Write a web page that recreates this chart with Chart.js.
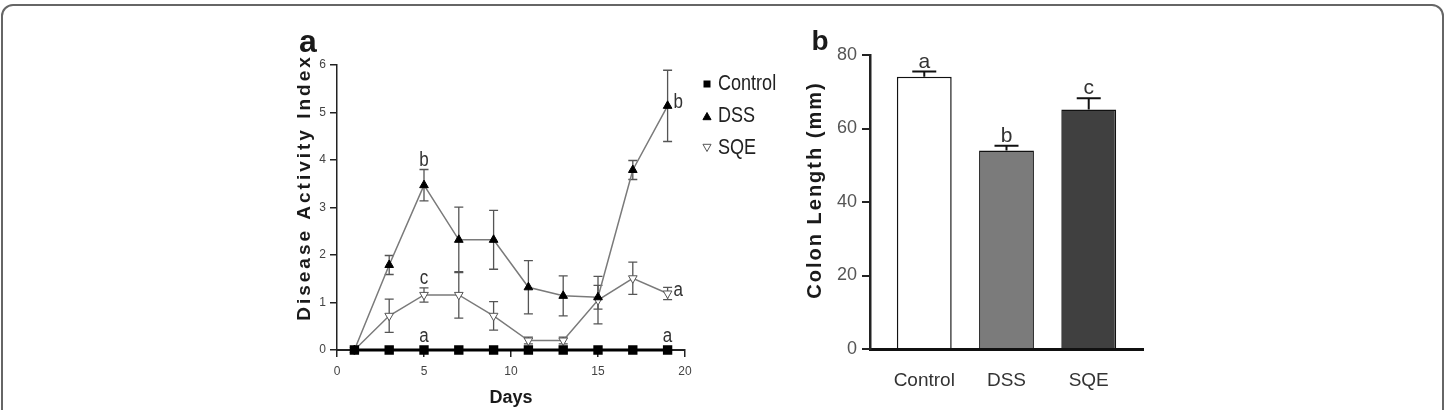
<!DOCTYPE html>
<html>
<head>
<meta charset="utf-8">
<script src="https://cdn.jsdelivr.net/npm/chart.js@4.4.1/dist/chart.umd.min.js"></script>
<style>
  body { margin: 0; background: #fff; width: 1446px; height: 410px; overflow: hidden; position: relative; }
  .frame { position: absolute; left: 1px; top: 4px; width: 1439px; height: 460px; border: 2px solid #666; border-radius: 12px; }
  #dai { position: absolute; left: 280px; top: 20px; }
  #colon { position: absolute; left: 790px; top: 20px; }
</style>
</head>
<body>
<div class="frame"></div>
<canvas id="dai" width="520" height="390"></canvas>
<canvas id="colon" width="380" height="390"></canvas>
<script>
// panel a: disease activity index over time
const days = [1, 3, 5, 7, 9, 11, 13, 15, 17, 19];
const controlDAI = [0, 0, 0, 0, 0, 0, 0, 0, 0, 0];
const controlErr = [0, 0, 0, 0, 0, 0, 0, 0, 0, 0];
const dssDAI = [0, 1.79, 3.47, 2.32, 2.32, 1.32, 1.14, 1.11, 3.79, 5.14];
const dssErr = [0, 0.2, 0.33, 0.69, 0.62, 0.56, 0.42, 0.25, 0.2, 0.75];
const sqeDAI = [0, 0.72, 1.16, 1.16, 0.72, 0.2, 0.2, 1.05, 1.51, 1.19];
const sqeErr = [0, 0.35, 0.15, 0.49, 0.3, 0.07, 0.07, 0.5, 0.34, 0.13];
const controlLetters = ['', '', 'a', '', '', '', '', '', '', 'a'];
const dssLetters = ['', '', 'b', '', '', '', '', '', '', 'b'];
const sqeLetters = ['', '', 'c', '', '', '', '', '', '', 'a'];
const dayTicks = [0, 5, 10, 15, 20];
const daiTicks = [0, 1, 2, 3, 4, 5, 6];

// panel b: colon length
const groups = ['Control', 'DSS', 'SQE'];
const colonLength = [74.1, 54.0, 65.2];
const colonErr = [1.4, 1.3, 3.0];
const colonLetters = ['a', 'b', 'c'];
const lengthTicks = [0, 20, 40, 60, 80];

const sans = "'Liberation Sans', Arial, sans-serif";

function toPoints(xs, ys) {
  return xs.map((x, i) => ({ x: x, y: ys[i] }));
}

// squeeze text sideways, the figure uses a condensed face
function narrowText(ctx, text, x, y, sx) {
  ctx.save();
  ctx.translate(x, y);
  ctx.scale(sx, 1);
  ctx.fillText(text, 0, 0);
  ctx.restore();
}

function drawTri(ctx, x, y, r, down, fill, stroke) {
  const s = down ? -1 : 1;
  ctx.beginPath();
  ctx.moveTo(x, y - s * r);
  ctx.lineTo(x + r * 0.9, y + s * r * 0.6);
  ctx.lineTo(x - r * 0.9, y + s * r * 0.6);
  ctx.closePath();
  ctx.fillStyle = fill;
  ctx.fill();
  ctx.strokeStyle = stroke;
  ctx.lineWidth = 1;
  ctx.stroke();
}

const panelA = {
  id: 'panelA',
  beforeDatasetsDraw(chart) {
    const ctx = chart.ctx, xs = chart.scales.x, ys = chart.scales.y;
    ctx.save();
    ctx.strokeStyle = '#555';
    ctx.lineWidth = 1.3;
    chart.data.datasets.forEach(ds => {
      ds.errors.forEach((e, i) => {
        if (!e) return;
        const x = xs.getPixelForValue(ds.data[i].x);
        const y1 = ys.getPixelForValue(ds.data[i].y + e);
        const y2 = ys.getPixelForValue(ds.data[i].y - e);
        ctx.beginPath();
        ctx.moveTo(x, y1); ctx.lineTo(x, y2);
        ctx.moveTo(x - 4.5, y1); ctx.lineTo(x + 4.5, y1);
        ctx.moveTo(x - 4.5, y2); ctx.lineTo(x + 4.5, y2);
        ctx.stroke();
      });
    });
    ctx.restore();
  },
  afterDatasetsDraw(chart) {
    const ctx = chart.ctx, xs = chart.scales.x, ys = chart.scales.y;
    ctx.save();
    ctx.fillStyle = '#333';
    ctx.font = '20px ' + sans;
    chart.data.datasets.forEach((ds, di) => {
      const last = ds.letters.length - 1;
      ds.letters.forEach((t, i) => {
        if (!t) return;
        const x = xs.getPixelForValue(ds.data[i].x);
        if (di > 0 && i === last) {
          ctx.textAlign = 'left';
          ctx.textBaseline = 'middle';
          narrowText(ctx, t, x + 6, ys.getPixelForValue(ds.data[i].y) - 3, 0.85);
        } else {
          ctx.textAlign = 'center';
          ctx.textBaseline = 'alphabetic';
          const e = ds.errors[i];
          narrowText(ctx, t, x, ys.getPixelForValue(ds.data[i].y + e) - (e ? 4 : 8), 0.85);
        }
      });
    });
    ctx.restore();
  },
  afterDraw(chart) {
    const ctx = chart.ctx, a = chart.chartArea;
    ctx.save();
    ctx.fillStyle = '#1a1a1a';
    // panel letter
    ctx.font = 'bold 32px ' + sans;
    ctx.textAlign = 'center';
    ctx.textBaseline = 'middle';
    ctx.fillText('a', 28, 23);
    // x title
    ctx.font = 'bold 18px ' + sans;
    ctx.fillText('Days', (a.left + a.right) / 2, 378);
    // y title
    ctx.save();
    ctx.translate(25, (a.top + a.bottom) / 2 - 20);
    ctx.rotate(-Math.PI / 2);
    ctx.letterSpacing = '3px';
    ctx.font = 'bold 19px ' + sans;
    ctx.fillText('Disease Activity Index', 0, 0);
    ctx.restore();
    // legend
    ctx.font = '22px ' + sans;
    ctx.textAlign = 'left';
    const lx = a.right + 22;
    chart.data.datasets.forEach((ds, i) => {
      const ly = a.top + 19 + i * 32;
      if (i === 0) {
        ctx.fillStyle = '#000';
        ctx.fillRect(lx - 3.5, ly - 3.5, 7, 7);
      } else if (i === 1) {
        drawTri(ctx, lx, ly + 1, 4.5, false, '#000', '#000');
      } else {
        drawTri(ctx, lx, ly - 1, 4.5, true, '#fff', '#555');
      }
      ctx.fillStyle = '#222';
      narrowText(ctx, ds.label, lx + 11, ly, 0.82);
    });
    ctx.restore();
  }
};

new Chart(document.getElementById('dai'), {
  type: 'line',
  data: {
    datasets: [
      {
        label: 'Control', data: toPoints(days, controlDAI), errors: controlErr, letters: controlLetters,
        borderColor: '#000', borderWidth: 3, pointStyle: 'rect', pointRadius: 4.5,
        pointBackgroundColor: '#000', pointBorderColor: '#000', clip: false
      },
      {
        label: 'DSS', data: toPoints(days, dssDAI), errors: dssErr, letters: dssLetters,
        borderColor: '#7a7a7a', borderWidth: 1.5, pointStyle: 'triangle', pointRadius: 5,
        pointBackgroundColor: '#000', pointBorderColor: '#000', pointBorderWidth: 1, clip: false
      },
      {
        label: 'SQE', data: toPoints(days, sqeDAI), errors: sqeErr, letters: sqeLetters,
        borderColor: '#7a7a7a', borderWidth: 1.5, pointStyle: 'triangle', pointRotation: 180, pointRadius: 5,
        pointBackgroundColor: '#fff', pointBorderColor: '#555', pointBorderWidth: 1, clip: false
      }
    ]
  },
  options: {
    responsive: false,
    animation: false,
    layout: { padding: { left: 30, top: 45, right: 115, bottom: 0 } },
    plugins: { legend: { display: false }, tooltip: { enabled: false } },
    scales: {
      x: {
        type: 'linear', min: 0, max: 20,
        afterBuildTicks: s => { s.ticks = dayTicks.map(v => ({ value: v })); },
        afterFit: s => { s.height = 60; },
        grid: { drawOnChartArea: false, tickLength: 7, color: '#222', lineWidth: 1.5 },
        border: { color: '#222', width: 2 },
        ticks: { font: { family: sans, size: 12 }, color: '#444', padding: 7, maxRotation: 0 }
      },
      y: {
        min: 0, max: 6,
        afterBuildTicks: s => { s.ticks = daiTicks.map(v => ({ value: v })); },
        afterFit: s => { s.width = 27; },
        grid: { drawOnChartArea: false, tickLength: 7, color: '#222', lineWidth: 1.5 },
        border: { color: '#222', width: 1.5 },
        ticks: { font: { family: sans, size: 12 }, color: '#444', padding: 4 }
      }
    }
  },
  plugins: [panelA]
});

const panelB = {
  id: 'panelB',
  afterDatasetsDraw(chart) {
    const ctx = chart.ctx, xs = chart.scales.x, ys = chart.scales.y;
    ctx.save();
    ctx.strokeStyle = '#111';
    ctx.lineWidth = 2;
    ctx.fillStyle = '#333';
    ctx.font = '21px ' + sans;
    ctx.textAlign = 'center';
    colonLength.forEach((v, i) => {
      const x = xs.getPixelForValue(i);
      const y0 = ys.getPixelForValue(v);
      const y1 = ys.getPixelForValue(v + colonErr[i]);
      ctx.beginPath();
      ctx.moveTo(x, y0); ctx.lineTo(x, y1);
      ctx.moveTo(x - 12, y1); ctx.lineTo(x + 12, y1);
      ctx.stroke();
      ctx.fillText(colonLetters[i], x, y1 - 4);
    });
    ctx.restore();
  },
  afterDraw(chart) {
    const ctx = chart.ctx, a = chart.chartArea;
    ctx.save();
    ctx.fillStyle = '#1a1a1a';
    ctx.textAlign = 'center';
    ctx.textBaseline = 'middle';
    ctx.font = 'bold 28px ' + sans;
    ctx.fillText('b', 30, 22);
    ctx.translate(25, (a.top + a.bottom) / 2 - 12);
    ctx.rotate(-Math.PI / 2);
    ctx.letterSpacing = '2px';
    ctx.font = 'bold 20px ' + sans;
    ctx.fillText('Colon Length (mm)', 0, 0);
    ctx.restore();
  }
};

new Chart(document.getElementById('colon'), {
  type: 'bar',
  data: {
    datasets: [{
      data: toPoints(groups.map((g, i) => i), colonLength),
      backgroundColor: ['#ffffff', '#7b7b7b', '#404040'],
      borderColor: '#111',
      borderWidth: 1.5,
      barPercentage: 0.667,
      categoryPercentage: 1
    }]
  },
  options: {
    responsive: false,
    animation: false,
    layout: { padding: { left: 0, top: 35, right: 27, bottom: 0 } },
    plugins: { legend: { display: false }, tooltip: { enabled: false } },
    scales: {
      x: {
        type: 'linear', min: -0.66, max: 2.66, offset: false,
        afterBuildTicks: s => { s.ticks = groups.map((g, i) => ({ value: i })); },
        afterFit: s => { s.height = 61; },
        grid: { display: false },
        border: { display: true, color: '#111', width: 3 },
        ticks: { font: { family: sans, size: 19 }, color: '#333', padding: 12, maxRotation: 0, callback: v => groups[v] }
      },
      y: {
        min: 0, max: 80,
        afterBuildTicks: s => { s.ticks = lengthTicks.map(v => ({ value: v })); },
        afterFit: s => { s.width = 80; },
        grid: { drawOnChartArea: false, tickLength: 8, color: '#222', lineWidth: 2 },
        border: { color: '#222', width: 2.5 },
        ticks: { font: { family: sans, size: 18 }, color: '#555', padding: 5 }
      }
    }
  },
  plugins: [panelB]
});
</script>
</body>
</html>
